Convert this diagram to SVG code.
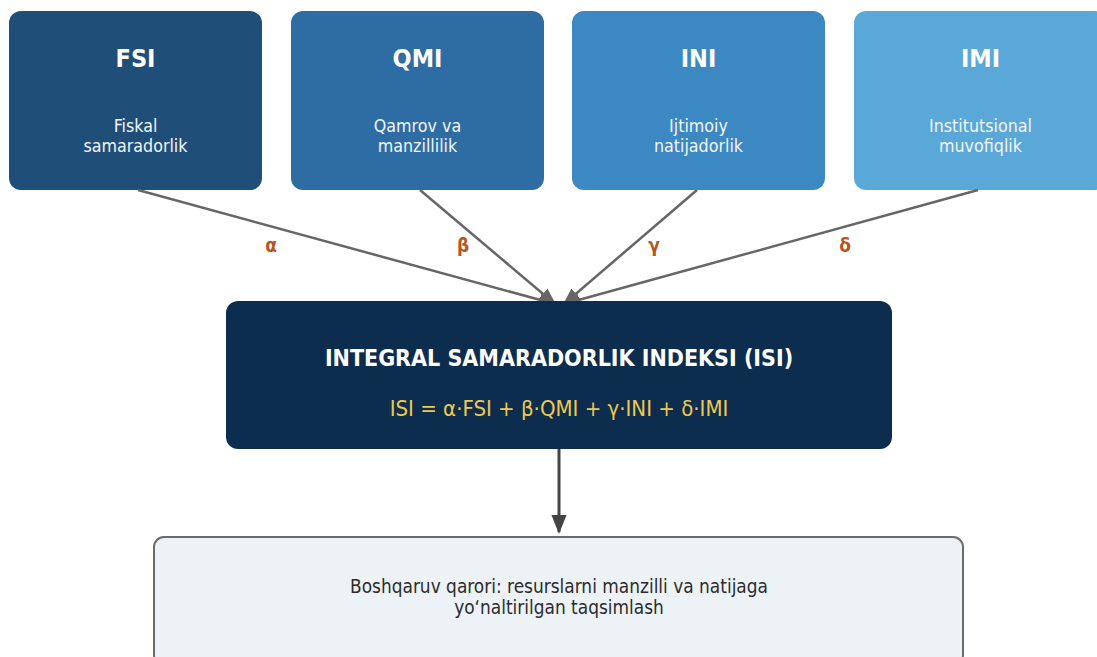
<svg xmlns="http://www.w3.org/2000/svg" width="1097" height="657" viewBox="0 0 1097 657">
<defs>
<style>
text{font-family:"DejaVu Sans Condensed","DejaVu Sans","Liberation Sans",sans-serif;text-anchor:middle}
.t{font-weight:bold;font-size:25px;fill:#fff}
.s{font-size:17.7px;fill:#f2f6fa}
.g{font-weight:bold;font-size:19px;fill:#b8541e}
.c{stroke:#666;stroke-width:2.5;fill:none}
</style>
<marker id="ah" viewBox="0 0 10 8" refX="9" refY="4" markerWidth="7" markerHeight="7" markerUnits="strokeWidth" orient="auto"><path d="M0,0 L10,4 L0,8 Z" fill="#666"/></marker>
<marker id="ad" viewBox="0 0 10 8" refX="9" refY="4" markerWidth="6.3" markerHeight="6.3" markerUnits="strokeWidth" orient="auto"><path d="M0,0 L10,4 L0,8 Z" fill="#444"/></marker>
</defs>
<rect width="1097" height="657" fill="#fff"/>
<g id="FSI"><rect x="9" y="11" width="253" height="179" rx="12" fill="#1f4e79"/><text class="t" x="135.5" y="67">FSI</text><text class="s" x="135.5" y="132">Fiskal</text><text class="s" x="135.5" y="152">samaradorlik</text></g>
<g id="QMI"><rect x="291" y="11" width="253" height="179" rx="12" fill="#2e6da4"/><text class="t" x="417.5" y="67">QMI</text><text class="s" x="417.5" y="132">Qamrov va</text><text class="s" x="417.5" y="152">manzillilik</text></g>
<g id="INI"><rect x="572" y="11" width="253" height="179" rx="12" fill="#3c88c2"/><text class="t" x="698.5" y="67">INI</text><text class="s" x="698.5" y="132">Ijtimoiy</text><text class="s" x="698.5" y="152">natijadorlik</text></g>
<g id="IMI"><rect x="854" y="11" width="253" height="179" rx="12" fill="#5aa8d7"/><text class="t" x="980.5" y="67">IMI</text><text class="s" x="980.5" y="132">Institutsional</text><text class="s" x="980.5" y="152">muvofiqlik</text></g>
<g id="connectors">
<line class="c" x1="138" y1="190" x2="555" y2="304" marker-end="url(#ah)"/>
<line class="c" x1="420" y1="190" x2="555" y2="304" marker-end="url(#ah)"/>
<line class="c" x1="697" y1="190" x2="564" y2="304" marker-end="url(#ah)"/>
<line class="c" x1="978" y1="190" x2="564" y2="304" marker-end="url(#ah)"/>
<line x1="559" y1="449" x2="559" y2="532" stroke="#444" stroke-width="3" marker-end="url(#ad)"/>
<text class="g" x="271" y="252">α</text>
<text class="g" x="463" y="252">β</text>
<text class="g" x="654" y="252">γ</text>
<text class="g" x="845" y="252">δ</text>
</g>
<g id="ISI"><rect x="226" y="301" width="666" height="148" rx="12" fill="#0d2d4f"/><text x="559" y="366" style="font-weight:bold;font-size:23px;fill:#fff">INTEGRAL SAMARADORLIK INDEKSI (ISI)</text><text x="559" y="416" style="font-size:22px;fill:#f0c84e">ISI = α·FSI + β·QMI + γ·INI + δ·IMI</text></g>
<g id="decision"><rect x="154" y="537" width="809" height="128" rx="10" fill="#edf2f7" stroke="#6b6b6b" stroke-width="2"/><text x="559" y="593" style="font-size:18.9px;fill:#2b2b2b">Boshqaruv qarori: resurslarni manzilli va natijaga</text><text x="559" y="614" style="font-size:18.9px;fill:#2b2b2b">yo‘naltirilgan taqsimlash</text></g>
</svg>
